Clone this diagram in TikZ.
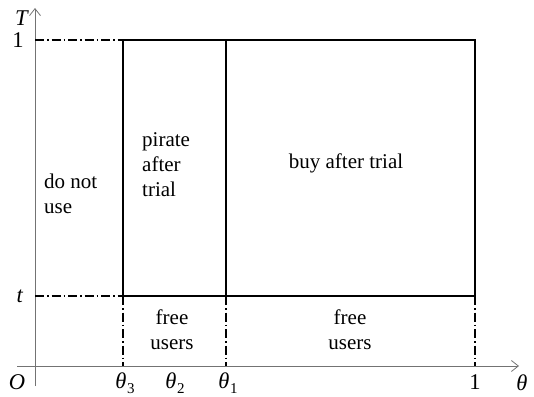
\documentclass[tikz,border=0pt]{standalone}
\usepackage{fontspec}
\setmainfont{Liberation Serif}
\usetikzlibrary{arrows.meta}
\newcommand\thsub[1]{\textit{θ}\kern0.5pt\raisebox{-0.22em}{\fontsize{15}{15}\selectfont #1}}
\begin{document}
\begin{tikzpicture}[x=1pt,y=-1pt,
  axis/.style={draw=black!55, line width=0.8pt},
  tipA/.style={-{Straight Barb[length=7pt,width=11pt,line width=0.8pt]}},
  boxline/.style={draw=black, line width=1.6pt},
  dashdot/.style={draw=black, line width=1.1pt, dash pattern=on 9pt off 3pt on 1.5pt off 3pt},
  lbl/.style={font=\fontsize{22.5}{25}\selectfont, inner sep=0pt},
  txt/.style={font=\fontsize{21}{25}\selectfont, inner sep=0pt, align=left}]
\useasboundingbox (0,0) rectangle (534,396);
% coordinates
\coordinate (xs) at (17,366);
\coordinate (xe) at (519,366);
\coordinate (ys) at (35,386);
\coordinate (ye) at (35,8);
\coordinate (Y1) at (35,40);
\coordinate (Yt) at (35,296);
\coordinate (A) at (123,40);
\coordinate (B) at (226,40);
\coordinate (C) at (475,40);
\coordinate (D) at (123,296);
\coordinate (E) at (226,296);
\coordinate (F) at (475,296);
\coordinate (G) at (123,366);
\coordinate (H) at (226,366);
\coordinate (I) at (475,366);
% axes
\draw[axis,tipA] (xs) -- (xe);
\draw[axis,tipA] (ys) -- (ye);
% dash-dot guides
\draw[dashdot] (Y1) -- (A);
\draw[dashdot] (Yt) -- (D);
\draw[dashdot] (D) -- (G);
\draw[dashdot] (E) -- (H);
\draw[dashdot] (F) -- (I);
% boxes
\draw[boxline] (A) -- (C) -- (F) -- (D) -- cycle;
\draw[boxline] (B) -- (E);
% axis labels
\node[lbl] (lT) at (22,18) {\textit{T}};
\node[lbl] (l1) at (18,40) {1};
\node[lbl] (lt) at (20,296) {\textit{t}};
\node[lbl] (lO) at (17,382) {\textit{O}};
\node[lbl] (lth3) at (125,383) {\thsub{3}};
\node[lbl] (lth2) at (175,383) {\thsub{2}};
\node[lbl] (lth1) at (228,383) {\thsub{1}};
\node[lbl] (lone) at (475,382) {1};
\node[lbl] (lth) at (522,383) {\textit{θ}};
% region texts
\node[txt, anchor=west] (dnu) at (44,194) {do not\\use};
\node[txt, anchor=west] (pat) at (142,165) {pirate\\after\\trial};
\node[txt] (bat) at (346,163) {buy after trial};
\node[txt, align=center] (fu1) at (172,330) {free\\users};
\node[txt, align=center] (fu2) at (350,330) {free\\users};
\end{tikzpicture}
\end{document}
